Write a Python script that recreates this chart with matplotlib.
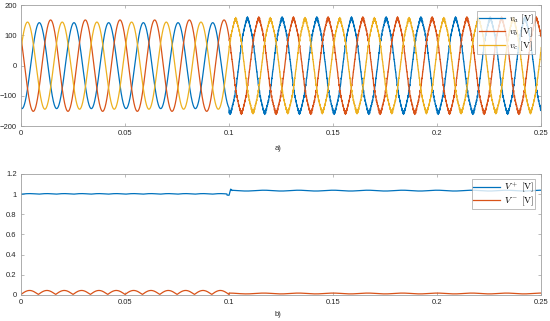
import numpy as np
import matplotlib
matplotlib.use("Agg")
import matplotlib.pyplot as plt

plt.rcParams['font.family'] = ['Liberation Sans', 'DejaVu Sans']
plt.rcParams['mathtext.fontset'] = 'cm'

# ---- data ----
freq_hz = 60.0
t_step = 0.1          # s, disturbance instant
t_end = 0.25
phase_names = ['v_a', 'v_b', 'v_c']
phase_angles = [2.95, 0.90, -1.20]           # rad
amp_before = [142.0, 151.0, 144.0]           # V
amp_after = [150.0, 150.0, 148.0]            # V
harm_orders = [5, 7, 37, 43, 83]             # ripple after the step
harm_amps = [2.5, 1.5, 3.0, 2.5, 2.0]        # V

vpos_before = 1.003
vpos_ripple_before = 0.006
vpos_after = 1.035
vpos_ripple_after = 0.004
vpos_spike = 1.05
vneg_peak_before = 0.045
vneg_floor_before = 0.005
vneg_after = 0.015
vneg_ripple_after = 0.004

xticks = [0, 0.05, 0.1, 0.15, 0.2, 0.25]
xticklabels = ['0', '0.05', '0.1', '0.15', '0.2', '0.25']
yticks_top = [-200, -100, 0, 100, 200]
yticks_bot = [0, 0.2, 0.4, 0.6, 0.8, 1.0, 1.2]
yticklabels_bot = ['0', '0.2', '0.4', '0.6', '0.8', '1', '1.2']

colors = ['#0072BD', '#D95319', '#EDB120']
labels_top = [r'$v_a\ [\mathrm{V}]$', r'$v_b\ [\mathrm{V}]$', r'$v_c\ [\mathrm{V}]$']
labels_bot = [r'$V^+\ [\mathrm{V}]$', r'$V^-\ [\mathrm{V}]$']

# ---- build waveforms ----
t = np.linspace(0, t_end, 20001)
w = 2 * np.pi * freq_hz
after = t >= t_step
waves = []
for k in range(3):
    th = w * t + phase_angles[k]
    v = np.where(after, amp_after[k], amp_before[k]) * np.cos(th)
    rip = np.zeros_like(t)
    for h, a in zip(harm_orders, harm_amps):
        rip += a * np.cos(h * th)
    v = v + np.where(after, rip, 0.0)
    waves.append(v)

rect = np.abs(np.sin(w * t))
vpos = np.where(after,
                vpos_after + vpos_ripple_after * np.cos(w * t),
                vpos_before + vpos_ripple_before * (rect - 0.6))
spike_mask = (t >= t_step - 0.001) & (t < t_step + 0.0015)
vpos = np.where(spike_mask,
                np.interp(t, [t_step - 0.001, t_step, t_step + 0.0008, t_step + 0.0015],
                          [vpos_before - 0.012, vpos_before - 0.015, vpos_spike, vpos_after]),
                vpos)
vneg = np.where(after,
                vneg_after + vneg_ripple_after * np.cos(w * t),
                vneg_floor_before + (vneg_peak_before - vneg_floor_before) * rect)

# ---- figure ----
fig = plt.figure(figsize=(5.5, 3.21), dpi=100)
ax1 = fig.add_axes([0.038, 0.607, 0.946, 0.377])
ax2 = fig.add_axes([0.038, 0.081, 0.946, 0.377])

axis_gray = '#262626'
for ax in (ax1, ax2):
    for s in ax.spines.values():
        s.set_color('#A0A0A0')
        s.set_linewidth(0.6)
    ax.tick_params(direction='in', length=2.5, width=0.5, colors='#A0A0A0',
                   labelcolor=axis_gray, labelsize=5.5, top=True, right=True, pad=3)
    ax.set_xlim(0, t_end)
    ax.set_xticks(xticks)
    ax.set_xticklabels(xticklabels)

for k in range(3):
    ax1.plot(t, waves[k], color=colors[k], lw=0.9, label=labels_top[k])
ax1.set_ylim(-200, 200)
ax1.set_yticks(yticks_top)
leg_kw = dict(fontsize=6.8, frameon=True, fancybox=False, edgecolor='#A0A0A0',
              borderpad=0.15, handlelength=2.8, labelspacing=0.0,
              handletextpad=0.4, borderaxespad=0.0)
leg1 = ax1.legend(loc='upper right', bbox_to_anchor=(0.988, 0.95), **leg_kw)
leg1.get_frame().set_linewidth(0.6)

ax2.plot(t, vpos, color=colors[0], lw=0.9, label=labels_bot[0])
ax2.plot(t, vneg, color=colors[1], lw=0.9, label=labels_bot[1])
ax2.set_ylim(0, 1.2)
ax2.set_yticks(yticks_bot)
ax2.set_yticklabels(yticklabels_bot)
leg2 = ax2.legend(loc='upper right', bbox_to_anchor=(0.989, 0.958), **leg_kw)
leg2.get_frame().set_linewidth(0.6)

fig.text(0.505, 1 - 148 / 321, 'a)', ha='center', va='center', fontsize=5.5, color=axis_gray)
fig.text(0.505, 1 - 314 / 321, 'b)', ha='center', va='center', fontsize=5.5, color=axis_gray)

fig.savefig('out.png', dpi=100)
